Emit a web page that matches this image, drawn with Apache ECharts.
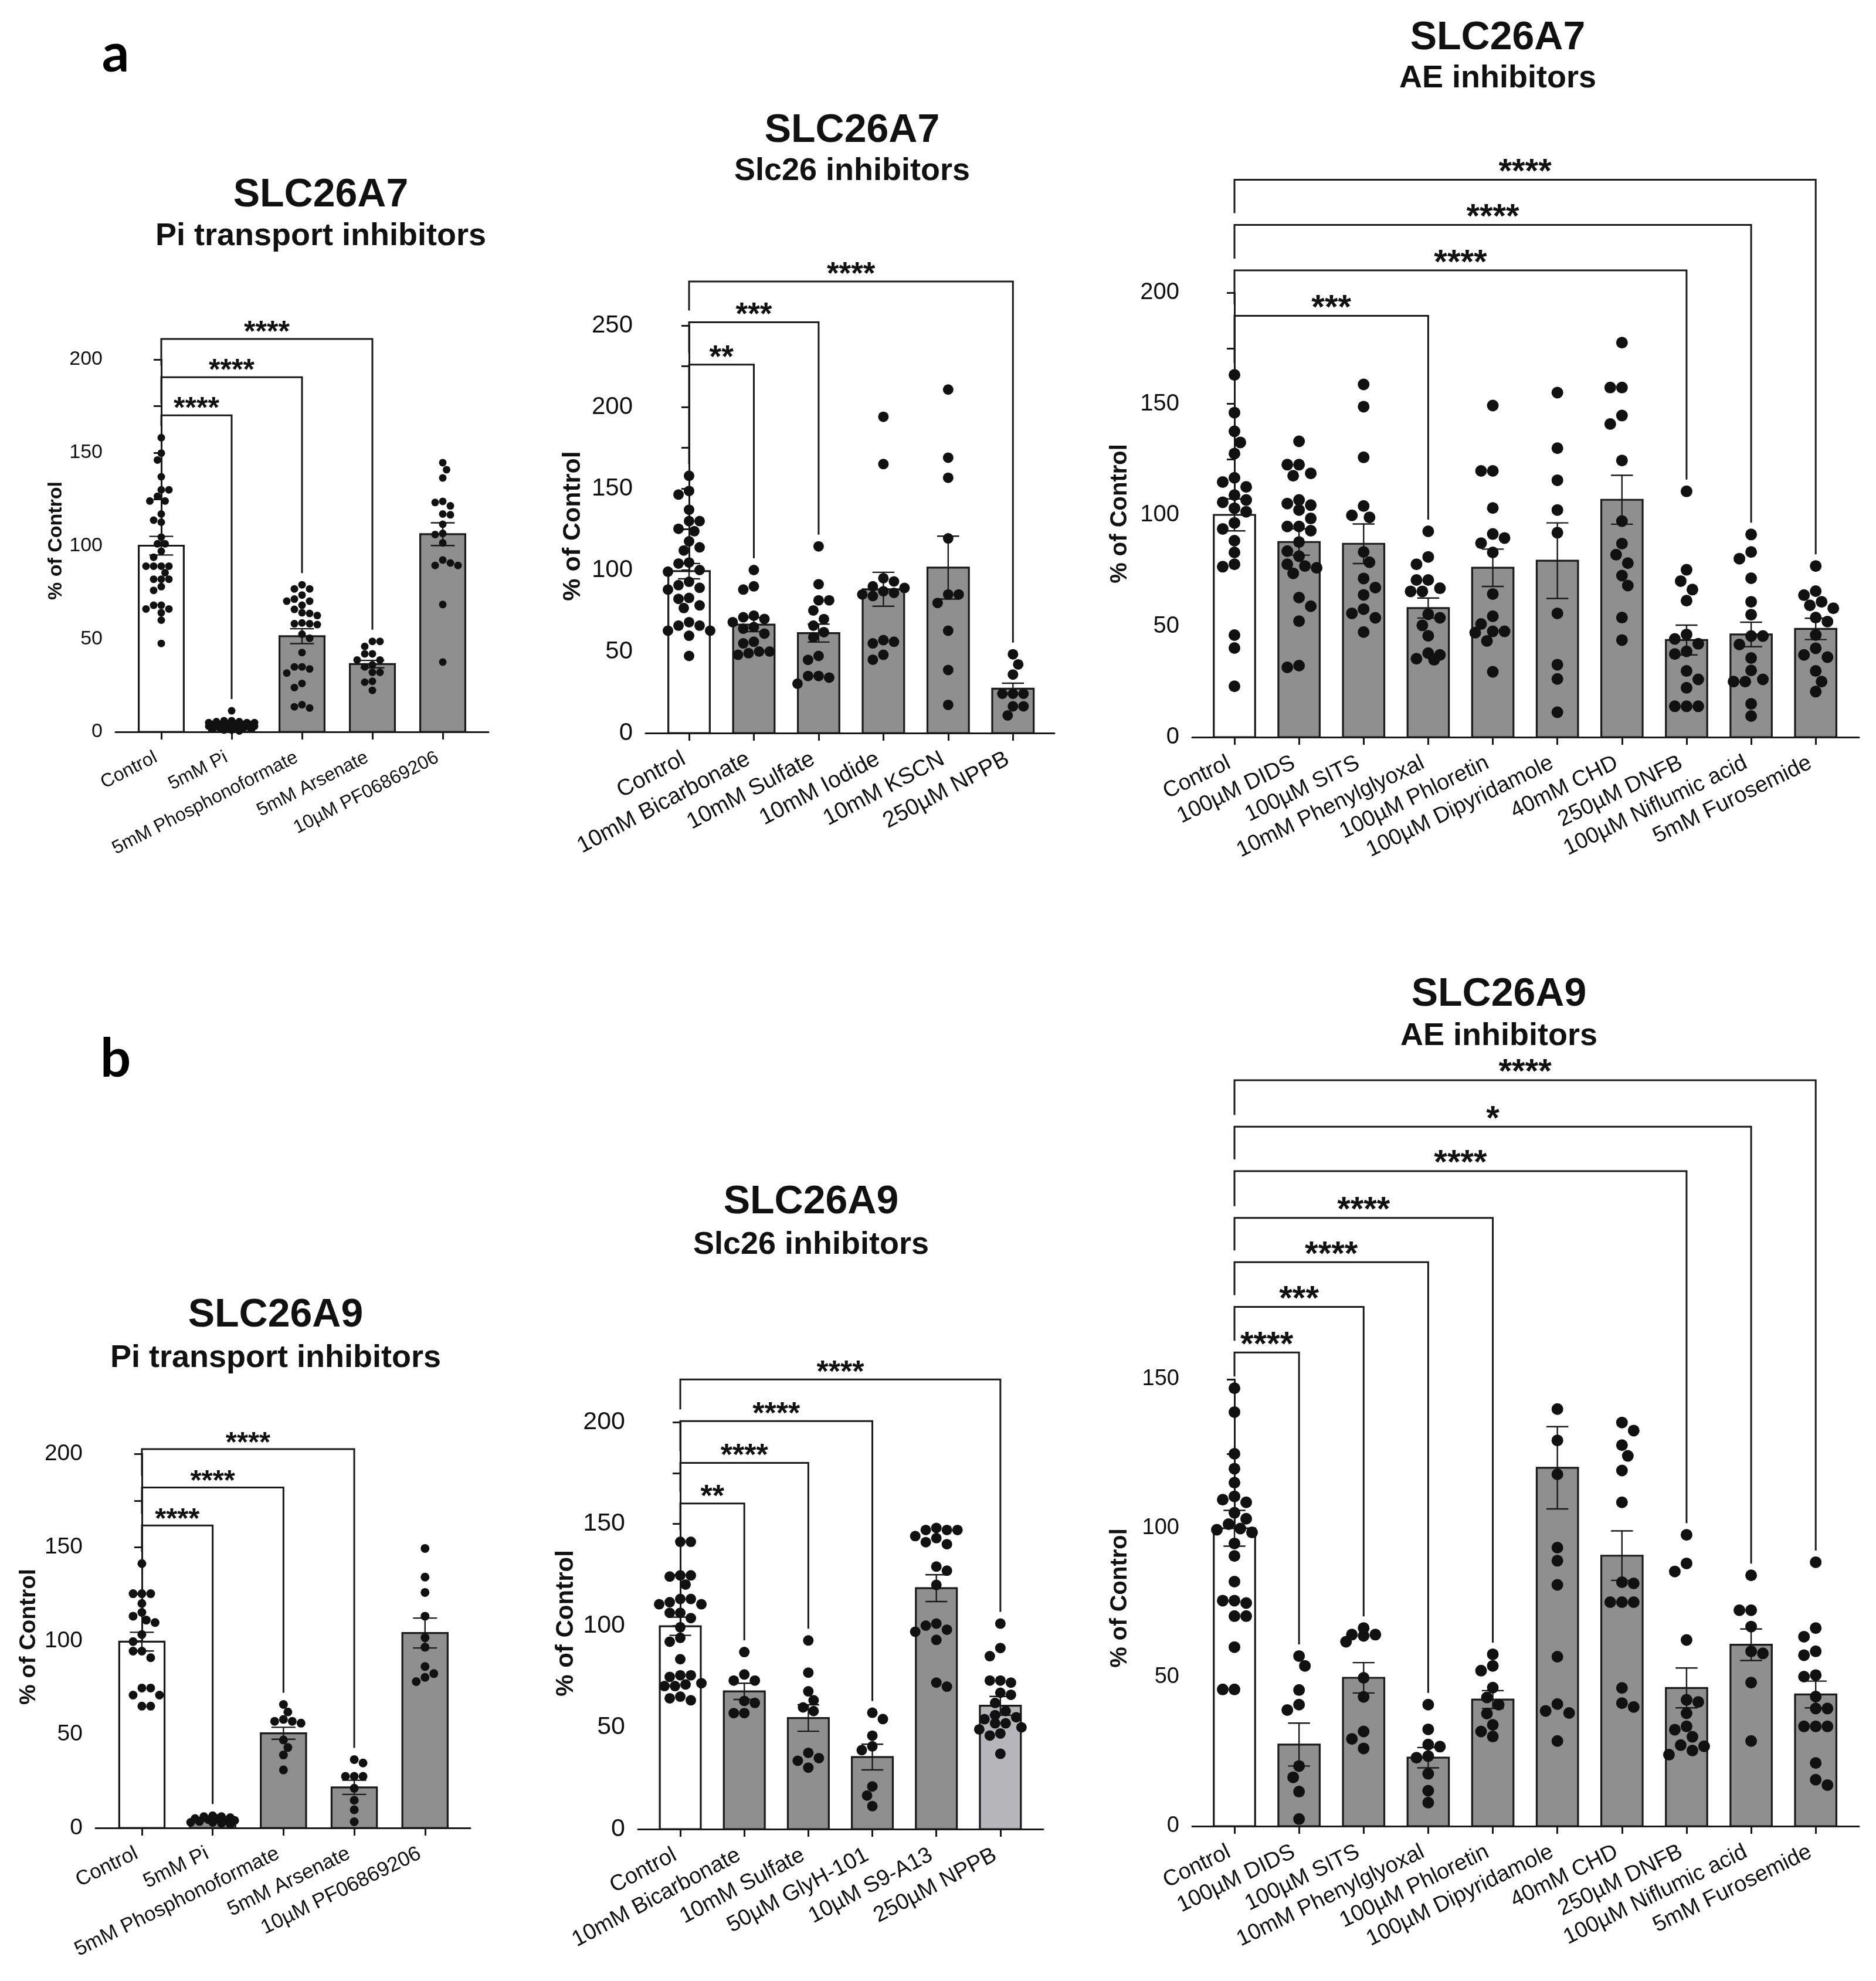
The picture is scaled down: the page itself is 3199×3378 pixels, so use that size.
<!DOCTYPE html>
<html><head><meta charset="utf-8">
<script src="https://cdn.jsdelivr.net/npm/echarts@6/dist/echarts.min.js"></script>
<style>html,body{margin:0;padding:0;background:#fff}#c{width:3199px;height:3378px}</style>
</head><body><div id="c"></div>
<script>
// ---------------- DATA ----------------
const catsPi = ['Control','5mM Pi','5mM Phosphonoformate','5mM Arsenate','10µM PF06869206'];
const catsSlcA7 = ['Control','10mM Bicarbonate','10mM Sulfate','10mM Iodide','10mM KSCN','250µM NPPB'];
const catsSlcA9 = ['Control','10mM Bicarbonate','10mM Sulfate','50µM GlyH-101','10µM S9-A13','250µM NPPB'];
const catsAE = ['Control','100µM DIDS','100µM SITS','10mM Phenylglyoxal','100µM Phloretin','100µM Dipyridamole','40mM CHD','250µM DNFB','100µM Niflumic acid','5mM Furosemide'];
const yTicks = [0, 50, 100, 150, 200, 250];

// a1: SLC26A7 Pi transport inhibitors
const a1Mean = [100, 4, 51.4, 36.4, 106.2];
const a1Sem = [5, 0.5, 4, 2, 6.1];
const a1Dots = [
  [158,149.7,146,137,130,130,126.5,124,124,117,113.7,112.6,104.6,101,101,97,93.8,89,89,89,89,85.5,82,82,82,78,76,68,68,66,66,64,60,47.5],
  [11.3,6,6,5.5,5.5,5,5,5,4.5,4.5,4,4,4,4,3.5,3.5,3.5,3,3,3,3,2.5,2.5,2,2,2,1.5,1,1,0.5],
  [79,76.8,76.8,73.5,71.3,70.2,70.2,68,65.8,63.6,64,62.5,58.5,58.1,57.6,58.1,52.5,50.3,42.6,34.9,34.9,33.8,31.6,26,23.8,12.8,14.6,13.5],
  [48.6,48.6,45.9,41.9,41.9,38.6,38.6,36,34.9,32,32,27.2,26.7,22.3],
  [144.6,140.8,136.4,123.8,123.2,121.4,117,116.6,111.5,106.6,106,101.5,92.3,90.7,89.4,89.4,68.4,37.5]
];
const a1Brackets = [[0,1,'****'],[0,2,'****'],[0,3,'****']];

// a2: SLC26A7 Slc26 inhibitors
const a2Mean = [99.3, 66.5, 61.3, 88.2, 101.5, 27.2];
const a2Sem = [4.7, 4.3, 5.5, 10.4, 19.3, 3.4];
const a2Dots = [
  [157.8,148.5,146.3,137,130,130,125.3,123.8,117.6,113.9,112,104.6,104,100,99,92.8,90.7,89.1,88,82.9,82.3,78.3,76.7,68,65.9,65.9,62.8,62.8,59.7,47.3],
  [100,90,88,72,71,70,68,65,64,61,56,55,50,50,49,48],
  [114.5,91.3,81.4,81.4,75.2,69.9,65.9,61.9,58.8,47.3,44.9,35,35,34,30.3],
  [194,165,95,93,90,89,87,86,85,84,57,56,55,48,45],
  [210.7,168.9,156.6,119.4,85,85,79.8,62.8,38.7,17.3],
  [48.3,42.1,35.9,24.1,24.1,24.1,16.4,16.4,10.8]
];
const a2Brackets = [[0,1,'**'],[0,2,'***'],[0,5,'****']];

// a3: SLC26A7 AE inhibitors
const a3Mean = [100, 87.8, 87, 58.1, 76.2, 79.4, 106.8, 43.7, 46.2, 48.7];
const a3Sem = [7.2, 5.9, 8.9, 4.5, 8.4, 17, 11, 6.7, 5.5, 4.8];
const a3Dots = [
  [163,146,137.6,132.6,127.6,116.7,114.8,112.6,108.9,106.7,105.7,103,101.4,96.4,93.7,88.4,83.1,77.8,76.7,45.9,40.1,22.9],
  [133.1,122.6,122.6,118.7,117.6,106.7,105.1,104.4,102.2,98.4,94.8,94.8,92.9,87.8,83.7,81.4,77.8,77,76.2,73.7,62.8,58.9,52.2,32.2,31.4],
  [158.7,148.7,125.9,104,99.8,98.9,83.3,78.7,71.4,67.3,64,57.6,55.7,53.7,47.3],
  [92.6,81.1,77.8,70.7,70.7,67,65.6,65.6,55.3,53.7,50.3,45.6,37.8,37,35.3,34.8],
  [149.2,119.8,119.8,103.1,91.4,89.6,87.3,83.1,64.4,54.4,50.9,47.6,47,47.6,43.3,29.4],
  [155,130,115.6,102.2,92,55.7,32.6,26.2,11.2],
  [177.5,157.3,157.3,144.7,140.9,124.5,97.2,87.1,82.1,78.3,72.7,68.2,53.8,43.7],
  [110.6,75.3,70.2,66.4,61.4,46.2,44.2,42,38.6,37.4,29.8,26,22.2,13.9,13.9,13.9],
  [91.2,83.3,80.3,71.5,60.9,55.1,45.5,45.5,41.7,35.6,30,26,25,25,15,9.5],
  [77,65.7,63.9,60.9,59.3,58,53.8,52,46,40,37,36,29.8,25,20.5]
];
const a3Brackets = [[0,3,'***'],[0,7,'****'],[0,8,'****'],[0,9,'****']];

// b1: SLC26A9 Pi transport inhibitors
const b1Mean = [99.6, 4.1, 50.6, 21.7, 104.2];
const b1Sem = [5, 0.4, 3.2, 3.8, 8];
const b1Dots = [
  [141.3,125.2,125.2,125.2,120,115.2,113.2,111.1,109.8,103.4,99.6,94.5,94.5,91,74.8,74.8,71,71,65.1,65.1],
  [6.5,6,6,5.5,5,5,4.5,4,4,3.5,3,3,2.5,2],
  [66,62,58,57,57,56,47,43,39,31],
  [36.5,34.7,27.6,27.6,27.6,21.2,14.8,9.7,3.3],
  [149.4,134.1,125.9,113.2,101.7,96.6,86.3,82.5,80.5,78.2]
];
const b1Brackets = [[0,1,'****'],[0,2,'****'],[0,3,'****']];

// b2: SLC26A9 Slc26 inhibitors
const b2Mean = [99.7, 67.7, 54.6, 35.4, 118.4, 60.6];
const b2Sem = [4.5, 4, 6.5, 6.3, 6.6, 4.6];
const b2Dots = [
  [141.2,141.2,124.7,124.7,124.1,120.2,113.1,113.1,111.5,110.5,110.5,106.3,106.3,103.7,99.2,94,92.1,83.5,75.6,75.6,74.8,71.7,71.1,70.3,70.3,65.1,64.3,63.3],
  [87,76,73,73,62,63,57,57],
  [92.7,76.9,67.7,63.3,59.8,58,37.5,34.9,33.6,30.2],
  [57.2,54.1,45.9,40.7,38.8,21,16.5,11.3],
  [148,147,147,147,144,143,141,140,129,127,120,101,100,98,97,93,72,70],
  [101,89,85,73,73,72,67,66,62,58,56,55,54,52,52,50,49,47,46,37]
];
const b2Brackets = [[0,1,'**'],[0,2,'****'],[0,3,'****'],[0,5,'****']];

// b3: SLC26A9 AE inhibitors
const b3Mean = [100, 27.4, 49.8, 23, 42.5, 120.3, 90.8, 46.4, 60.9, 44.2];
const b3Sem = [6, 7.2, 5.1, 3.4, 3, 13.8, 8.3, 6.7, 5.3, 4.5];
const b3Dots = [
  [147,139,125,120,115.3,110.7,109.6,108.7,105.2,103.2,101.4,99.9,99.5,98.6,94.9,90.7,82.1,75.7,75.7,74.9,70.5,70.5,60.1,45.9,45.9],
  [57.1,53.8,45.7,40.8,39,20.2,16.4,11.6,2.4],
  [66.5,64.3,64.3,63.9,61.9,49.8,43.4,31.8,29.3,26.1],
  [40.8,32.5,27.4,26.7,23.5,23,17.6,11.9,7.9],
  [57.7,53.8,52.2,46.5,43.2,40.8,37.8,34,31.8,30.1],
  [140,129.5,118.1,93.5,89.1,81,56.9,41,38,38.7,28.6],
  [135.5,132.8,127.9,124.3,119.4,108.7,81.9,81.5,75.2,75.2,75.2,46.4,41.3,40],
  [97.8,88.2,85.5,62.5,42.4,41.7,37.9,33.5,32.4,30,27.2,26.8,25.4,24],
  [84.2,72.5,72.5,67,58.7,58,48.2,28.6],
  [88.6,66.5,63.6,58.7,57.4,50.7,50.2,43.5,39.5,39.5,33.5,33.5,33.5,21.2,15.6,13.8]
];
const b3Brackets = [[0,1,'****'],[0,2,'***'],[0,3,'****'],[0,4,'****'],[0,7,'****'],[0,8,'*'],[0,9,'****']];

// ---------------- LAYOUT / STYLE ----------------
const FONT = '"Liberation Sans", Arial, sans-serif';
const INK = '#1a1a1a';
const GREY = '#8f8f8f';
const LIGHT = '#b5b5ba';
const panels = [
  {title:'SLC26A7', sub:'Pi transport inhibitors', cats:catsPi, mean:a1Mean, sem:a1Sem, dots:a1Dots, br:a1Brackets, light:[],
   L:{grid:{left:197,top:613,width:636,height:635}, xmin:-0.65, xmax:4.65, ymax:200, yFont:34, xFont:32, rot:27, dot:13, levels:[170,190.5,211], starFont:50, title:[547,333,403], yname:[96,922,34]}},
  {title:'SLC26A7', sub:'Slc26 inhibitors', cats:catsSlcA7, mean:a2Mean, sem:a2Sem, dots:a2Dots, br:a2Brackets, light:[],
   L:{grid:{left:1101,top:555,width:697,height:695}, xmin:-0.67, xmax:5.64, ymax:250, yFont:42, xFont:39, rot:28, dot:18, levels:[226,252,277], starFont:53, title:[1453,223,292], yname:[977,897,43]}},
  {title:'SLC26A7', sub:'AE inhibitors', cats:catsAE, mean:a3Mean, sem:a3Sem, dots:a3Dots, br:a3Brackets, light:[],
   L:{grid:{left:2033,top:499,width:1137,height:758}, xmin:-0.654, xmax:9.67, ymax:200, yFont:40, xFont:38, rot:26, dot:20, levels:[189.6,210,230.5,250.8], starFont:58, title:[2554,65,134], yname:[1910,876,40]}},
  {title:'SLC26A9', sub:'Pi transport inhibitors', cats:catsPi, mean:b1Mean, sem:b1Sem, dots:b1Dots, br:b1Brackets, light:[],
   L:{grid:{left:163,top:2479,width:639,height:638}, xmin:-0.654, xmax:4.64, ymax:200, yFont:39, xFont:35, rot:26, dot:15, levels:[161.7,182,202.5], starFont:49, title:[470,2243,2316], yname:[49,2791,39]}},
  {title:'SLC26A9', sub:'Slc26 inhibitors', cats:catsSlcA9, mean:b2Mean, sem:b2Sem, dots:b2Dots, br:b2Brackets, light:[5],
   L:{grid:{left:1088,top:2425,width:691,height:694}, xmin:-0.66, xmax:5.67, ymax:200, yFont:43, xFont:38, rot:28, dot:18, levels:[160,180,200.5,221], starFont:52, title:[1383,2050,2123], yname:[965,2768,42]}},
  {title:'SLC26A9', sub:'AE inhibitors', cats:catsAE, mean:b3Mean, sem:b3Sem, dots:b3Dots, br:b3Brackets, light:[],
   L:{grid:{left:2033,top:2352,width:1137,height:762}, xmin:-0.654, xmax:9.67, ymax:150, yFont:38, xFont:38, rot:26, dot:20, levels:[159,174.3,189.3,204.2,219.9,234.8,250.4], starFont:58, title:[2556,1696,1767], yname:[1910,2725,40]}}
];

// beeswarm layout of dots (pixel offsets computed from values)
function swarm(vals, d, ppu, maxHalf) {
  const order = vals.map((v, i) => i).sort((a, b) => vals[b] - vals[a]);
  const placed = [];
  const off = new Array(vals.length).fill(0);
  let flip = false;
  order.forEach(i => {
    const y = vals[i] * ppu;
    const cands = [0];
    for (let k = 1; k * d / 2 <= maxHalf; k++) {
      if (flip) cands.push(k * d / 2, -k * d / 2); else cands.push(-k * d / 2, k * d / 2);
    }
    flip = !flip;
    let best = 0, bestD = -1;
    for (const c of cands) {
      let m = Infinity;
      for (const p of placed) { const dd = Math.hypot(p[0] - c, p[1] - y); if (dd < m) m = dd; }
      if (m >= d * 0.97) { best = c; break; }
      if (m > bestD) { bestD = m; best = c; }
    }
    placed.push([best, y]);
    off[i] = best;
  });
  return off;
}

const grid = [], xAxis = [], yAxis = [], series = [], graphic = [];
const BW = 0.64, CAP = 0.17, GAPPX = 20, LW = 3, TICK = 13, LABEL_SHIFT = 9;

panels.forEach((P, k) => {
  const L = P.L;
  const idx = P.cats.map((c, i) => i);
  const ppu = L.grid.height / L.ymax;
  const band = L.grid.width / (L.xmax - L.xmin);
  const labelPos = idx.map(i => i - LABEL_SHIFT / band);
  grid.push(Object.assign({containLabel: false, outerBoundsMode: 'none'}, L.grid));
  xAxis.push({
    type: 'value', gridIndex: k, min: L.xmin, max: L.xmax,
    axisLine: {show: true, onZero: false, lineStyle: {color: INK, width: LW}},
    axisTick: {show: true, customValues: idx, length: TICK, lineStyle: {color: INK, width: LW}},
    axisLabel: {show: true, customValues: labelPos, formatter: v => P.cats[Math.round(v)], rotate: L.rot,
      fontSize: L.xFont, fontFamily: FONT, color: '#111', margin: 42},
    splitLine: {show: false}
  });
  yAxis.push({
    type: 'value', gridIndex: k, min: 0, max: L.ymax, interval: 50,
    axisLine: {show: true, lineStyle: {color: INK, width: LW}},
    axisTick: {show: true, length: TICK, lineStyle: {color: INK, width: LW}},
    minorTick: {show: true, splitNumber: 2, length: TICK, lineStyle: {color: INK, width: LW}},
    splitLine: {show: false}, minorSplitLine: {show: false},
    axisLabel: {fontSize: L.yFont, fontFamily: FONT, color: '#111', margin: 22,
      customValues: yTicks.filter(t => t <= L.ymax)}
  });
  const fills = idx.map(i => i === 0 ? '#ffffff' : (P.light.indexOf(i) >= 0 ? LIGHT : GREY));
  // bars
  series.push({
    type: 'custom', xAxisIndex: k, yAxisIndex: k, z: 2, silent: true,
    data: P.mean.map((m, i) => [i, m]),
    encode: {x: 0, y: 1},
    renderItem: (params, api) => {
      const i = api.value(0), m = api.value(1);
      const p0 = api.coord([i - BW / 2, m]), p1 = api.coord([i + BW / 2, 0]);
      return {type: 'rect', shape: {x: p0[0], y: p0[1], width: p1[0] - p0[0], height: p1[1] - p0[1]},
        style: {fill: fills[params.dataIndex], stroke: INK, lineWidth: 3.2}};
    }
  });
  // error bars (mean ± SEM)
  series.push({
    type: 'custom', xAxisIndex: k, yAxisIndex: k, z: 3, silent: true,
    data: P.mean.map((m, i) => [i, m, P.sem[i]]),
    encode: {x: 0, y: 1},
    renderItem: (params, api) => {
      const i = api.value(0), m = api.value(1), s = api.value(2);
      const t = api.coord([i, m + s]), b = api.coord([i, m - s]);
      const tl = api.coord([i - CAP, m + s]), tr = api.coord([i + CAP, m + s]);
      const bl = api.coord([i - CAP, m - s]), brr = api.coord([i + CAP, m - s]);
      const st = {stroke: INK, lineWidth: 2.4, fill: null};
      return {type: 'group', children: [
        {type: 'line', shape: {x1: t[0], y1: t[1], x2: b[0], y2: b[1]}, style: st},
        {type: 'line', shape: {x1: tl[0], y1: tl[1], x2: tr[0], y2: tr[1]}, style: st},
        {type: 'line', shape: {x1: bl[0], y1: bl[1], x2: brr[0], y2: brr[1]}, style: st}
      ]};
    }
  });
  // dots
  const pts = [];
  P.dots.forEach((vals, i) => {
    const off = swarm(vals, L.dot, ppu, band * 0.36);
    vals.forEach((v, j) => pts.push([i + off[j] / band, v]));
  });
  series.push({
    type: 'scatter', xAxisIndex: k, yAxisIndex: k, z: 4, silent: true, clip: false,
    symbol: 'circle', symbolSize: L.dot, itemStyle: {color: '#111', opacity: 1},
    data: pts
  });
  // significance brackets
  const gap = GAPPX / ppu;
  const topOf = i => Math.max(Math.max.apply(null, P.dots[i]), P.mean[i] + P.sem[i]);
  const brData = P.br.map((b, j) => {
    const lvl = L.levels[j];
    const leftBottom = j === 0 ? topOf(b[0]) + gap : L.levels[j - 1] + gap;
    const rightBottom = topOf(b[1]) + gap;
    return [b[0], b[1], lvl, leftBottom, rightBottom];
  });
  series.push({
    type: 'custom', xAxisIndex: k, yAxisIndex: k, z: 5, silent: true, clip: false,
    data: brData,
    encode: {x: 0, y: 2},
    renderItem: (params, api) => {
      const a = api.value(0), b = api.value(1), lvl = api.value(2), lb = api.value(3), rb = api.value(4);
      const p1 = api.coord([a, lb]), p2 = api.coord([a, lvl]), p3 = api.coord([b, lvl]), p4 = api.coord([b, rb]);
      return {type: 'group', children: [
        {type: 'polyline', shape: {points: [p1, p2, p3, p4]}, style: {stroke: INK, lineWidth: 3, fill: null}},
        {type: 'text', style: {text: P.br[params.dataIndex][2], x: (p2[0] + p3[0]) / 2, y: p2[1] - 0.2 * L.starFont,
          fontSize: L.starFont, fontWeight: 'bold', fontFamily: FONT, fill: '#111', align: 'center', verticalAlign: 'middle'}}
      ]};
    }
  });
  // titles & y axis name
  graphic.push({type: 'text', x: L.title[0], y: L.title[1], silent: true,
    style: {text: P.title, fontSize: 68, fontWeight: 'bold', fontFamily: FONT, fill: '#111', align: 'center', verticalAlign: 'middle'}});
  graphic.push({type: 'text', x: L.title[0], y: L.title[2], silent: true,
    style: {text: P.sub, fontSize: 54, fontWeight: 'bold', fontFamily: FONT, fill: '#111', align: 'center', verticalAlign: 'middle'}});
  graphic.push({type: 'text', x: L.yname[0], y: L.yname[1], rotation: Math.PI / 2, silent: true,
    style: {text: '% of Control', fontSize: L.yname[2], fontWeight: 'bold', fontFamily: FONT, fill: '#111', align: 'center', verticalAlign: 'middle'}});
});

graphic.push({type: 'text', x: 197, y: 92, silent: true,
  style: {text: 'a', fontSize: 92, fontWeight: 'bold', fontFamily: 'Lato, "Liberation Sans", sans-serif', fill: '#000', align: 'center', verticalAlign: 'middle'}});
graphic.push({type: 'text', x: 197, y: 1806, silent: true,
  style: {text: 'b', fontSize: 92, fontWeight: 'bold', fontFamily: 'Lato, "Liberation Sans", sans-serif', fill: '#000', align: 'center', verticalAlign: 'middle'}});

const chart = echarts.init(document.getElementById('c'), null, {renderer: 'canvas'});
chart.setOption({
  animation: false,
  backgroundColor: '#ffffff',
  grid, xAxis, yAxis, series, graphic
});
</script>
</body></html>
